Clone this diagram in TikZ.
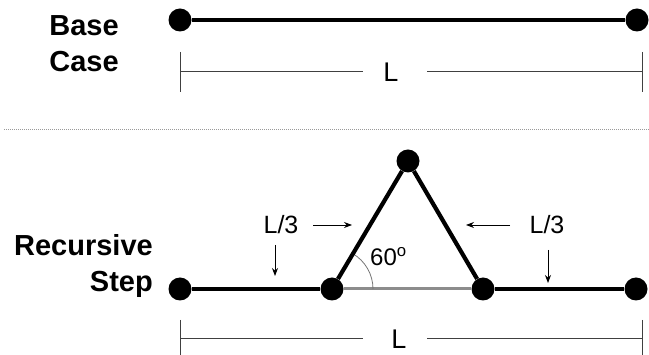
\documentclass[tikz,border=0pt]{standalone}
\usepackage{fontspec}
\setmainfont{Liberation Sans}
\usetikzlibrary{arrows.meta}
\tikzset{
  dot/.style={circle,fill=black,draw=none,minimum size=23pt,inner sep=0pt},
  seg/.style={line width=4.2pt,black},
  graybase/.style={line width=3pt,color=black!45},
  dimline/.style={line width=1pt,color=black!75},
  ptr/.style={line width=0.8pt,-{Stealth[length=8pt,width=6pt]}},
  title/.style={font=\fontsize{29}{36}\selectfont\bfseries,inner sep=0pt},
  lbl/.style={font=\fontsize{25}{28}\selectfont,inner sep=0pt},
  biglbl/.style={font=\fontsize{27}{30}\selectfont,inner sep=0pt},
  small/.style={font=\fontsize{24}{28}\selectfont,inner sep=0pt}
}
\begin{document}
\begin{tikzpicture}[x=1pt,y=1pt]
\useasboundingbox (0,0) rectangle (649,-355);
% Base case
\node[title,align=center] (basecase) at (84,-44) {Base\\Case};
\node[dot] (b1) at (180,-20) {};
\node[dot] (b2) at (637,-20) {};
\draw[seg] (b1) -- (b2);
\coordinate (bt1a) at (180,-52); \coordinate (bt1b) at (180,-92);
\coordinate (bt2a) at (642,-52); \coordinate (bt2b) at (642,-92);
\coordinate (bd1) at (180,-72); \coordinate (bd2) at (363,-72);
\coordinate (bd3) at (427,-72); \coordinate (bd4) at (642,-72);
\draw[dimline] (bt1a) -- (bt1b);
\draw[dimline] (bt2a) -- (bt2b);
\draw[dimline] (bd1) -- (bd2);
\draw[dimline] (bd3) -- (bd4);
\node[biglbl] (bL) at (391,-72) {L};
% separator
\coordinate (s1) at (4,-129); \coordinate (s2) at (649,-129);
\draw[color=black!40,line width=0.8pt,dash pattern=on 1pt off 1pt] (s1) -- (s2);
% Recursive step
\node[title,align=right,anchor=east] (recstep) at (153,-266) {Recursive\\Step};
\node[dot] (r1) at (180,-289) {};
\node[dot] (r2) at (332,-289) {};
\node[dot] (r3) at (408,-161) {};
\node[dot] (r4) at (483,-289) {};
\node[dot] (r5) at (636,-289) {};
\draw[graybase] (r2) -- (r4);
\draw[line width=0.8pt,color=black!55] (373,-289) arc[start angle=0,end angle=60,radius=41];
\draw[seg] (r1) -- (r2);
\draw[seg] (r2) -- (r3);
\draw[seg] (r3) -- (r4);
\draw[seg] (r4) -- (r5);
\node[small,anchor=west] (ang) at (370,-257) {60$^{\mathrm{o}}$};
% L/3 labels and arrows
\node[lbl] (lt1) at (281,-225) {L/3};
\node[lbl] (lt2) at (547,-225) {L/3};
\coordinate (a1s) at (275,-245); \coordinate (a1e) at (275,-276);
\coordinate (a2s) at (313,-225); \coordinate (a2e) at (352,-225);
\coordinate (a3s) at (510,-225); \coordinate (a3e) at (466,-225);
\coordinate (a4s) at (548,-250); \coordinate (a4e) at (548,-283);
\draw[ptr] (a1s) -- (a1e);
\draw[ptr] (a2s) -- (a2e);
\draw[ptr] (a3s) -- (a3e);
\draw[ptr] (a4s) -- (a4e);
% bottom dimension
\coordinate (rt1a) at (180,-320); \coordinate (rt1b) at (180,-355);
\coordinate (rt2a) at (642,-320); \coordinate (rt2b) at (642,-355);
\coordinate (rd1) at (180,-339); \coordinate (rd2) at (363,-339);
\coordinate (rd3) at (427,-339); \coordinate (rd4) at (642,-339);
\draw[dimline] (rt1a) -- (rt1b);
\draw[dimline] (rt2a) -- (rt2b);
\draw[dimline] (rd1) -- (rd2);
\draw[dimline] (rd3) -- (rd4);
\node[biglbl] (rL) at (399,-339) {L};
\end{tikzpicture}
\end{document}
